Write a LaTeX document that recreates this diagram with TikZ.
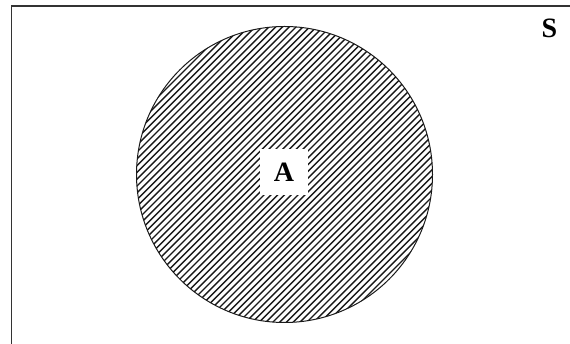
\documentclass[tikz,border=0pt]{standalone}
\usepackage{fontspec}
\setmainfont{Liberation Serif}
\usetikzlibrary{calc}
\begin{document}
\begin{tikzpicture}[x=1pt,y=1pt,
  frame/.style={line width=1.5pt,draw=black!80},
  setcircle/.style={line width=1pt,draw=black!90},
  hatchline/.style={line width=1.4pt,black!90},
  lbl/.style={font=\fontsize{28}{30}\selectfont\bfseries,inner sep=0pt},
  labelbox/.style={fill=white,minimum width=48pt,minimum height=46pt,inner sep=0pt}]
\useasboundingbox (0,0) rectangle (570,344);
\coordinate (c) at (284.5,169.5);
\begin{scope}
  \clip (c) circle (148);
  \foreach \k in {-50,...,50} {
    \draw[hatchline] ($(c)+(\k*6.8-200,-200)$) -- ++(400,400);
  }
\end{scope}
\draw[setcircle] (c) circle (148);
\node[labelbox] (boxA) at (284,172) {};
\node[lbl] (A) at (boxA) {A};
\node[lbl] (S) at (549.5,316) {S};
\draw[frame] (11.5,-5) -- (11.5,338) -- (580,338);
\end{tikzpicture}
\end{document}
